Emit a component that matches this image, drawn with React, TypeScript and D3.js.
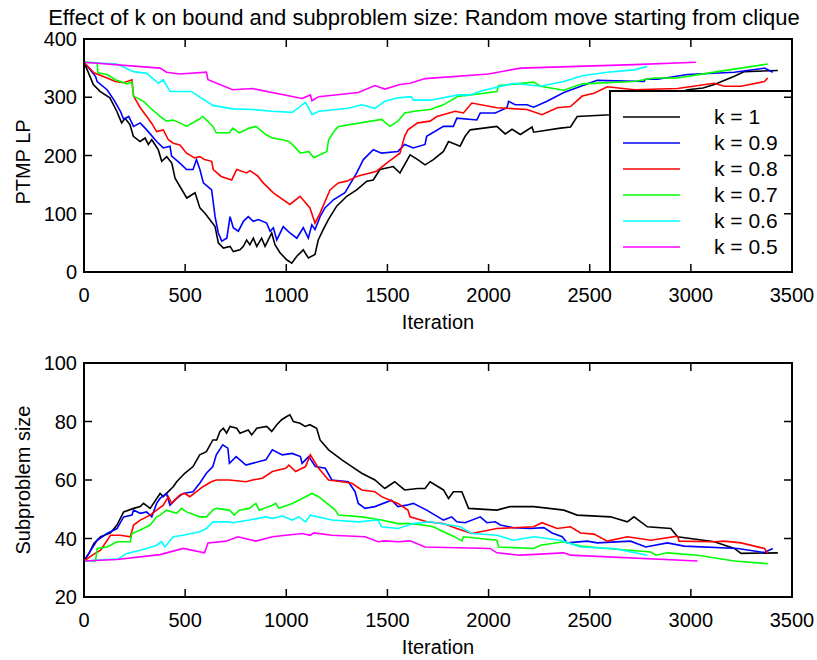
import React from "react";
import * as d3 from "d3";

type Pt = [number, number];

const titleText = "Effect of k on bound and subproblem size: Random move starting from clique";
const xLabel = "Iteration";
const topYLabel = "PTMP LP";
const bottomYLabel = "Subproblem size";
const kLabels = ["k = 1", "k = 0.9", "k = 0.8", "k = 0.7", "k = 0.6", "k = 0.5"];
const kColors = ["#000000", "#0000ff", "#ff0000", "#00ff00", "#00ffff", "#ff00ff"];
const xTicks = [0, 500, 1000, 1500, 2000, 2500, 3000, 3500];
const topYTicks = [0, 100, 200, 300, 400];
const bottomYTicks = [20, 40, 60, 80, 100];

// PTMP LP bound per k
const boundK10: Pt[] = [[0,360],[46,322],[79,310],[128,299],[162,276],[186,256],[203,264],[227,253],[244,233],[277,224],[302,230],[318,219],[335,227],[367,210],[384,190],[409,198],[434,187],[450,161],[508,127],[549,136],[573,110],[598,101],[648,78],[664,50],[689,41],[722,44],[738,35],[771,38],[788,44],[804,55],[820,47],[837,58],[854,44],[878,58],[895,44],[911,55],[928,67],[944,47],[969,33],[1002,21],[1027,15],[1052,27],[1084,38],[1109,24],[1142,30],[1158,55],[1183,73],[1208,90],[1249,113],[1299,130],[1348,141],[1398,156],[1430,158],[1463,176],[1529,181],[1562,170],[1612,201],[1650,193],[1686,184],[1727,193],[1777,207],[1802,224],[1859,216],[1884,233],[1909,244],[2041,250],[2082,237],[2116,245],[2157,236],[2215,249],[2223,240],[2355,247],[2405,249],[2438,267],[2603,270],[2984,313],[3060,316],[3116,322],[3215,336],[3264,344],[3430,346]];
const boundK09: Pt[] = [[0,360],[57,336],[65,327],[114,313],[147,296],[180,276],[196,262],[221,267],[245,250],[278,256],[310,244],[359,224],[392,213],[425,216],[433,199],[474,187],[507,176],[539,176],[556,193],[573,176],[590,153],[631,141],[648,95],[664,67],[681,53],[706,58],[722,95],[738,76],[763,70],[788,87],[812,95],[837,87],[862,90],[903,84],[920,70],[936,76],[953,55],[985,78],[1018,67],[1052,58],[1084,76],[1109,58],[1126,81],[1142,73],[1167,95],[1191,110],[1233,124],[1290,136],[1348,170],[1381,193],[1430,210],[1471,204],[1552,207],[1585,219],[1628,213],[1686,219],[1694,233],[1777,250],[1826,250],[1843,264],[1942,261],[1959,273],[2033,273],[2091,282],[2099,293],[2132,287],[2190,287],[2223,283],[2289,293],[2372,308],[2537,329],[2769,327],[2775,331],[2835,331],[2984,339],[3215,343],[3364,350],[3405,343]];
const boundK08: Pt[] = [[0,360],[49,342],[114,333],[155,327],[196,325],[237,330],[245,302],[278,282],[310,267],[335,255],[359,241],[392,244],[417,227],[441,221],[474,218],[507,204],[547,196],[573,198],[596,193],[631,190],[639,176],[678,164],[730,158],[755,176],[804,170],[820,174],[858,165],[886,153],[936,136],[1018,116],[1068,130],[1117,110],[1142,84],[1167,101],[1216,141],[1257,153],[1299,156],[1356,165],[1447,173],[1496,187],[1562,204],[1585,233],[1601,244],[1650,256],[1711,259],[1744,267],[1835,276],[1876,273],[1917,290],[2041,282],[2190,279],[2264,270],[2339,282],[2405,284],[2463,302],[2521,307],[2587,318],[2719,313],[2934,315],[3116,324],[3165,319],[3248,319],[3364,327],[3380,333]];
const boundK07: Pt[] = [[0,360],[65,359],[69,342],[114,339],[155,330],[212,323],[237,326],[245,302],[294,293],[327,282],[376,267],[408,259],[441,261],[474,256],[507,250],[572,263],[588,267],[637,250],[654,239],[719,239],[735,247],[768,239],[817,247],[850,250],[899,236],[931,230],[980,227],[1013,224],[1029,219],[1070,204],[1111,207],[1136,196],[1201,207],[1209,227],[1242,244],[1258,250],[1471,262],[1512,250],[1552,259],[1585,273],[1634,276],[1711,279],[1777,287],[1851,302],[1893,303],[2041,310],[2050,320],[2223,326],[2256,319],[2372,312],[2463,323],[2719,327],[2818,333],[2934,333],[3132,344],[3380,357]];
const boundK06: Pt[] = [[0,360],[163,357],[245,344],[310,341],[368,324],[392,330],[425,310],[531,310],[556,304],[637,286],[735,280],[833,279],[931,276],[1029,274],[1062,282],[1078,287],[1095,291],[1127,270],[1160,276],[1307,281],[1372,287],[1438,281],[1487,293],[1552,299],[1618,301],[1628,295],[1711,295],[1851,304],[1909,304],[1967,311],[2124,324],[2256,319],[2372,327],[2463,337],[2587,343],[2719,347],[2785,353]];
const boundK05: Pt[] = [[0,360],[376,350],[408,343],[474,340],[605,343],[613,330],[735,313],[833,315],[1078,298],[1119,304],[1127,294],[1160,301],[1356,308],[1438,320],[1487,314],[1562,322],[1612,324],[1686,332],[2000,340],[2157,350],[2719,356],[3025,360]];

// Subproblem size per k
const sizeK10: Pt[] = [[0,32.3],[25,34.9],[49,38.3],[82,40.6],[131,41.9],[163,44.6],[196,49.1],[245,50.3],[278,50.9],[294,52],[327,50.3],[376,55.4],[392,54.3],[441,57.7],[458,59.4],[498,62.3],[539,64.6],[572,68.6],[605,69.7],[637,73.7],[656,73.7],[672,76.6],[689,77.7],[705,76],[722,78.3],[755,77.7],[771,76],[812,77.1],[829,75.4],[854,77.7],[903,78.3],[928,76.6],[953,78.9],[977,80.6],[1002,81.7],[1018,82.3],[1035,80],[1068,79.4],[1093,78.3],[1117,78.9],[1150,77.7],[1167,73.7],[1209,70.3],[1275,66.9],[1324,64.6],[1373,62.3],[1438,60],[1487,57.1],[1536,59.4],[1585,56.6],[1650,57.1],[1686,57.1],[1711,59.4],[1777,56.6],[1802,53.7],[1826,56],[1868,56],[1901,50.3],[2041,49.7],[2107,50.9],[2223,50.9],[2372,49.7],[2438,48],[2603,47.4],[2686,45.7],[2719,47.4],[2785,44],[2901,43.4],[2934,40.6],[3116,38.9],[3215,36.6],[3248,34.9],[3430,35.1]];
const sizeK09: Pt[] = [[0,32.3],[65,39.4],[114,41.7],[163,43.4],[196,47.4],[237,48],[245,49.7],[278,48.6],[310,49.1],[335,47.4],[359,52],[376,53.7],[408,55.4],[425,51.4],[458,53.7],[490,55.4],[539,56],[572,58.9],[605,62.3],[637,64.6],[654,68.6],[686,72],[711,70.9],[719,65.7],[752,68],[801,65.1],[866,66.3],[899,66.9],[931,70.3],[980,68.6],[1029,69.1],[1070,68],[1078,65.7],[1111,68],[1144,64.6],[1193,64],[1225,60],[1307,59.4],[1340,56],[1356,52],[1389,50.3],[1438,50.9],[1520,53.1],[1552,50.9],[1595,51.4],[1628,52],[1694,49.7],[1777,46.3],[1818,47.4],[1843,45.7],[1884,45.4],[1959,47.4],[1992,45.4],[2033,45.7],[2058,44.6],[2124,43.7],[2207,43.4],[2273,43.7],[2314,41.9],[2364,40.6],[2389,38.5],[2488,39.1],[2537,38.5],[2702,39.1],[2777,37.1],[2884,38.5],[2967,37.4],[3232,36.6],[3364,35.2],[3405,36.6]];
const sizeK08: Pt[] = [[0,32.3],[41,34.3],[82,36],[131,41.1],[180,41.1],[229,40.6],[245,44.6],[278,46.3],[327,48],[359,49.7],[392,51.4],[417,54.3],[433,52],[474,54.9],[498,55.4],[523,54.3],[556,56],[588,57.7],[629,59.4],[654,60],[719,60],[801,59.4],[833,60],[882,60.6],[931,62.9],[997,64],[1013,65.1],[1046,62.9],[1095,64.6],[1119,68.6],[1160,64],[1209,60],[1275,59.4],[1324,58.9],[1373,56.6],[1438,56],[1471,54.3],[1552,52],[1601,49.7],[1612,47.4],[1694,45.7],[1777,45.1],[1843,43.4],[1917,41.7],[2041,43.4],[2124,43.7],[2223,44],[2264,45.4],[2339,43.4],[2405,44],[2455,41.9],[2521,41.5],[2587,39.1],[2686,40.6],[2802,39.4],[2934,40.8],[2942,39.1],[3116,38.9],[3165,39.1],[3248,38.5],[3364,36.6],[3380,34.9]];
const sizeK07: Pt[] = [[0,32.3],[57,32.3],[65,36.6],[114,37.1],[163,38.9],[229,38.9],[237,41.7],[278,42.9],[327,44.6],[359,47.4],[376,48],[408,49.7],[458,48.6],[482,50.3],[507,49.1],[572,47.4],[605,47.4],[637,49.7],[654,50.3],[719,49.7],[743,48],[768,49.7],[817,50.3],[850,52],[866,49.7],[931,51.4],[948,52],[964,50.3],[1029,52],[1062,53.1],[1095,54.3],[1127,55.4],[1160,54.3],[1242,49.7],[1258,48],[1373,47.4],[1471,46.3],[1552,45.1],[1612,45.1],[1677,44.6],[1727,44],[1777,42.3],[1826,40.8],[1868,39.2],[1876,40.6],[2041,39.4],[2050,37.1],[2223,36.6],[2256,37.7],[2372,38.9],[2455,37.4],[2587,36.6],[2802,35.4],[2827,34.3],[2884,35.1],[3033,34.3],[3215,32.3],[3380,31.4]];
const sizeK06: Pt[] = [[0,32.3],[172,33.1],[212,34.9],[278,36],[310,36.6],[359,37.7],[384,38.9],[400,37.1],[441,40.6],[490,41.1],[572,42.3],[605,43.4],[637,45.7],[719,45.7],[735,45.4],[817,46.3],[899,47.4],[931,46.9],[980,47.7],[1029,46.3],[1062,47.4],[1095,45.7],[1119,48],[1225,46.3],[1356,45.7],[1454,46.3],[1471,44],[1552,43.4],[1628,45.1],[1711,45.7],[1859,44],[1917,41.7],[2041,41.1],[2124,39.4],[2223,40.6],[2355,39.4],[2455,37.1],[2620,36.6],[2785,34.3]];
const sizeK05: Pt[] = [[0,32.3],[163,32.8],[376,34.5],[490,36.6],[596,35.1],[613,38.5],[703,39.1],[760,40.6],[850,39.1],[931,40.6],[1078,41.7],[1119,41.1],[1136,41.9],[1225,41.1],[1389,40.6],[1454,38.9],[1487,39.2],[1552,38.9],[1612,39.2],[1686,37.1],[2008,36.6],[2041,35.1],[2157,34.3],[2372,35.1],[2405,34.3],[3033,32.3]];

const boundSeries = [boundK10, boundK09, boundK08, boundK07, boundK06, boundK05];
const sizeSeries = [sizeK10, sizeK09, sizeK08, sizeK07, sizeK06, sizeK05];

const FONT = "'Liberation Sans', Arial, Helvetica, sans-serif";
const L = 84, R = 792;
const topPanel = { top: 39, bottom: 272 };
const botPanel = { top: 363, bottom: 597 };
const TICK = 8;

function Panel({ panel, series, yDomain, yTicks, yLabel, legend }: any) {
  const x = d3.scaleLinear().domain([0, 3500]).range([L, R]);
  const y = d3.scaleLinear().domain(yDomain).range([panel.bottom, panel.top]);
  const line = d3.line<Pt>().x(d => x(d[0])).y(d => y(d[1]));
  const midY = (panel.top + panel.bottom) / 2;
  return (
    <g>
      {series.map((s: Pt[], i: number) => (
        <path key={i} d={line(s) || ""} fill="none" stroke={kColors[i]} strokeWidth={1.6} strokeLinejoin="miter" />
      ))}
      {legend && (
        <g>
          <rect x={610} y={91} width={R - 610} height={panel.bottom - 91} fill="#fff" stroke="#000" strokeWidth={2} />
          {kLabels.map((lab, i) => {
            const cy = 117 + i * 26;
            return (
              <g key={lab}>
                <line x1={623} x2={680} y1={cy} y2={cy} stroke={kColors[i]} strokeWidth={1.6} />
                <text x={714} y={cy + 7} fontFamily={FONT} fontSize={21}>{lab}</text>
              </g>
            );
          })}
        </g>
      )}
      {xTicks.slice(1, -1).map(t => (
        <g key={"xt" + t}>
          <line x1={x(t)} x2={x(t)} y1={panel.bottom} y2={panel.bottom - TICK} stroke="#000" strokeWidth={1.5} />
          <line x1={x(t)} x2={x(t)} y1={panel.top} y2={panel.top + TICK} stroke="#000" strokeWidth={1.5} />
        </g>
      ))}
      {yTicks.slice(1, -1).map((t: number) => (
        <g key={"yt" + t}>
          <line x1={L} x2={L + TICK} y1={y(t)} y2={y(t)} stroke="#000" strokeWidth={1.5} />
          <line x1={R} x2={R - TICK} y1={y(t)} y2={y(t)} stroke="#000" strokeWidth={1.5} />
        </g>
      ))}
      <rect x={L} y={panel.top} width={R - L} height={panel.bottom - panel.top} fill="none" stroke="#000" strokeWidth={2} />
      {xTicks.map(t => (
        <text key={"xl" + t} x={x(t)} y={panel.bottom + 30} textAnchor="middle" fontFamily={FONT} fontSize={20}>{t}</text>
      ))}
      {yTicks.map((t: number) => (
        <text key={"yl" + t} x={L - 7} y={y(t) + 7} textAnchor="end" fontFamily={FONT} fontSize={20}>{t}</text>
      ))}
      <text x={438} y={panel.bottom + 57} textAnchor="middle" fontFamily={FONT} fontSize={20}>{xLabel}</text>
      <text transform={`translate(30, ${yLabel === topYLabel ? 162 : midY}) rotate(-90)`} textAnchor="middle" fontFamily={FONT} fontSize={20}>{yLabel}</text>
    </g>
  );
}

export default function App() {
  return (
    <svg width={817} height={660} style={{ position: "absolute", left: 0, top: 0, background: "#fff" }}>
      <rect x={0} y={0} width={817} height={660} fill="#fff" />
      <text x={424} y={25} textAnchor="middle" fontFamily={FONT} fontSize={22}>{titleText}</text>
      <Panel panel={topPanel} series={boundSeries} yDomain={[0, 400]} yTicks={topYTicks} yLabel={topYLabel} legend />
      <Panel panel={botPanel} series={sizeSeries} yDomain={[20, 100]} yTicks={bottomYTicks} yLabel={bottomYLabel} />
    </svg>
  );
}
